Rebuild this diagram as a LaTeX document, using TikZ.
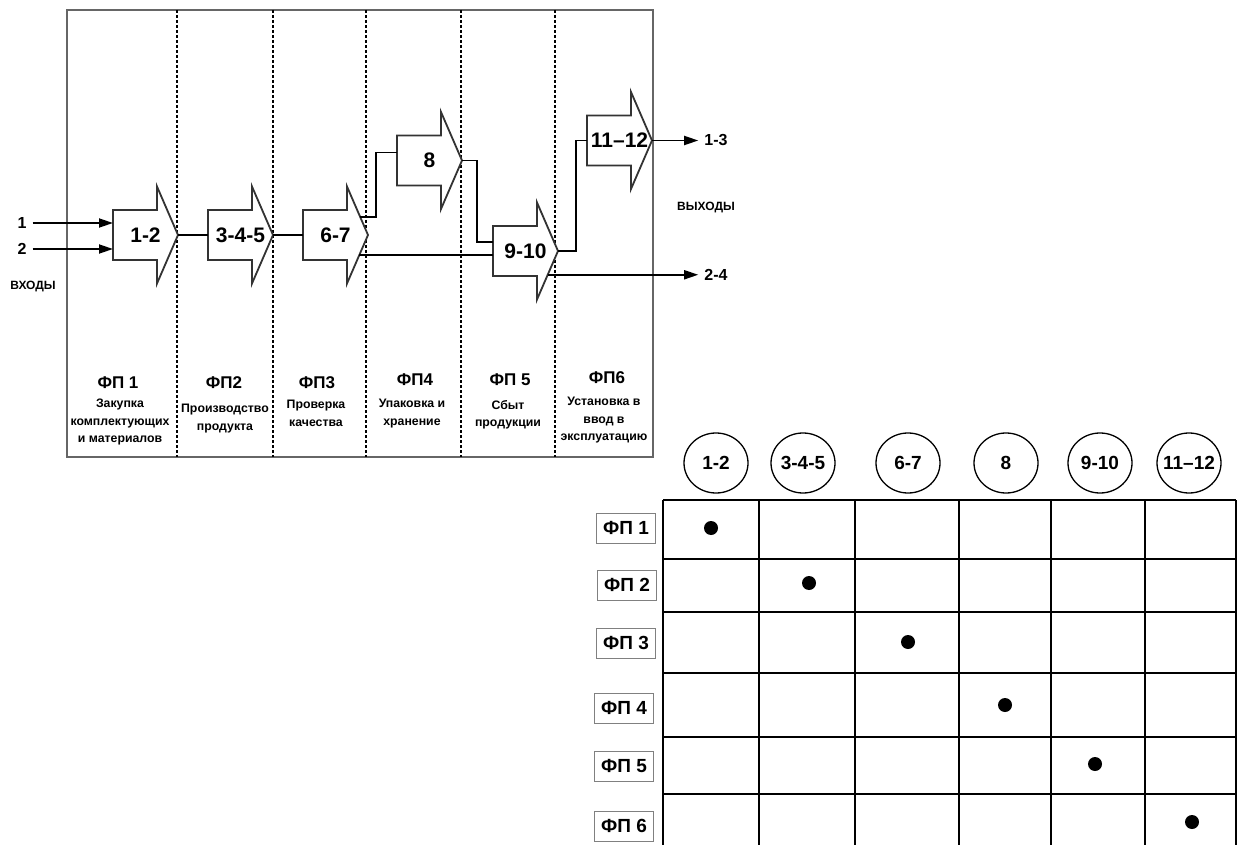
\documentclass[tikz,border=0pt]{standalone}
\usepackage{fontspec}
\setmainfont{Liberation Sans}
\usetikzlibrary{calc,shapes.geometric,arrows.meta}

\tikzset{
  outerframe/.style={line width=2.2pt,draw=black!60},
  divider/.style={line width=1.3pt,dash pattern=on 3pt off 2pt},
  procarrow/.style={line width=1.8pt,draw=black!80,fill=white},
  link/.style={line width=1.8pt},
  numlbl/.style={font=\fontsize{21}{21}\selectfont\bfseries,inner sep=0pt},
  iolbl/.style={font=\fontsize{16}{16}\selectfont\bfseries,inner sep=2pt},
  sidelbl/.style={font=\fontsize{12}{12}\selectfont\bfseries,inner sep=0pt},
  fphead/.style={font=\fontsize{17}{17}\selectfont\bfseries,inner sep=0pt},
  fptext/.style={font=\fontsize{12.3}{17.5}\selectfont\bfseries,align=center,anchor=north,inner sep=0pt},
  opcircle/.style={ellipse,draw,line width=1.3pt,minimum width=64pt,minimum height=60pt,inner xsep=-6pt,inner ysep=0pt,font=\fontsize{19}{19}\selectfont\bfseries},
  rowlbl/.style={draw=black!50,line width=1pt,minimum width=59pt,minimum height=30pt,inner sep=0pt,font=\fontsize{19}{19}\selectfont\bfseries},
  matrixline/.style={line width=1.6pt},
  hitdot/.style={circle,fill,inner sep=0pt,minimum size=14pt},
}

% стрелка-операция: имя, левый край, ось, подпись
\newcommand{\flowarrow}[4]{%
  \coordinate (#1-w) at (#2,#3);
  \coordinate (#1-h) at (#2+44,#3);
  \coordinate (#1-e) at (#2+65,#3);
  \coordinate (#1-nt) at (#2+44,#3-48.5);
  \coordinate (#1-nb) at (#2+44,#3+48.5);
  \draw[procarrow] ($(#1-w)+(0,-25)$) -- ($(#1-h)+(0,-25)$) -- (#1-nt) -- (#1-e)
    -- (#1-nb) -- ($(#1-h)+(0,25)$) -- ($(#1-w)+(0,25)$) -- cycle;
  \node[numlbl] (#1) at ($(#1-w)!0.5!(#1-e)$) {#4};
}

\begin{document}
\begin{tikzpicture}[x=1pt,y=-1pt,>={Triangle[length=14pt,width=9pt]},line join=miter]
  \useasboundingbox (0,0) rectangle (1237,845);

  % рамка и границы ФП
  \draw[outerframe] (67,10) rectangle (653,457);
  \draw[divider] (177,10) -- (177,457);
  \draw[divider] (273,10) -- (273,457);
  \draw[divider] (366,10) -- (366,457);
  \draw[divider] (461,10) -- (461,457);
  \draw[divider] (555,10) -- (555,457);

  % операции
  \flowarrow{a12}{113}{235}{1-2}
  \flowarrow{a345}{208}{235}{3-4-5}
  \flowarrow{a67}{303}{235}{6-7}
  \flowarrow{a8}{397}{160.5}{8}
  \flowarrow{a910}{493}{251}{9-10}
  \flowarrow{a1112}{587}{140.5}{11–12}

  % входы
  \node[iolbl] (in1) at (22,223) {1};
  \node[iolbl] (in2) at (22,249) {2};
  \node[sidelbl] (inlbl) at (33,287) {ВХОДЫ};
  \draw[link,->] ([xshift=4pt]in1.east) -- (in1 -| a12-w);
  \draw[link,->] ([xshift=4pt]in2.east) -- (in2 -| a12-w);

  % связи
  \draw[link] (a12-e) -- (a345-w);
  \draw[link] (a345-e) -- (a67-w);
  \coordinate (up67) at ($(a67-e)!0.37!(a67-nt)$);
  \draw[link] (up67) -| ($(a8-w)+(-21,-8)$) -- ($(a8-w)+(0,-8)$);
  \draw[link] (a8-e) -| ($(a910-w)+(-16,-9)$) -- ($(a910-w)+(0,-9)$);
  \coordinate (dn67) at ($(a67-e)!0.41!(a67-nb)$);
  \draw[link] (dn67) -- (dn67 -| a910-w);
  \draw[link] (a910-e) -| ($(a1112-w)+(-11,0)$) -- (a1112-w);

  % выходы
  \node[iolbl,inner sep=6pt] (out13) at (716,140.5) {1-3};
  \node[iolbl,inner sep=6pt] (out24) at (716,275) {2-4};
  \node[sidelbl] (outlbl) at (706,208) {ВЫХОДЫ};
  \draw[link,->] (a1112-e) -- (out13.west);
  \coordinate (dn910) at ($(a910-e)!0.49!(a910-nb)$);
  \draw[link,->] (dn910) -- (dn910 -| out24.west);

  % подписи ФП
  \node[fphead] (h1) at (118,383) {ФП 1};
  \node[fphead] (h2) at (224,383) {ФП2};
  \node[fphead] (h3) at (317,383) {ФП3};
  \node[fphead] (h4) at (415,380) {ФП4};
  \node[fphead] (h5) at (510,380) {ФП 5};
  \node[fphead] (h6) at (607,378) {ФП6};
  \node[fptext] (t1) at (120,399) {Закупка\\комплектующих\\и материалов};
  \node[fptext] (t2) at (225,404) {Производство\\продукта};
  \node[fptext] (t3) at (316,400) {Проверка\\качества};
  \node[fptext] (t4) at (412,399) {Упаковка и\\хранение};
  \node[fptext] (t5) at (508,400) {Сбыт\\продукции};
  \node[fptext] (t6) at (604,397) {Установка в\\ввод в\\эксплуатацию};

  % матрица соответствия
  \node[opcircle] (c1) at (716,463) {1-2};
  \node[opcircle] (c2) at (803,463) {3-4-5};
  \node[opcircle] (c3) at (908,463) {6-7};
  \node[opcircle] (c4) at (1006,463) {8};
  \node[opcircle] (c5) at (1100,463) {9-10};
  \node[opcircle] (c6) at (1189,463) {11–12};

  \draw[matrixline] (663,500) -- (663,845);
  \draw[matrixline] (759,500) -- (759,845);
  \draw[matrixline] (855,500) -- (855,845);
  \draw[matrixline] (959,500) -- (959,845);
  \draw[matrixline] (1051,500) -- (1051,845);
  \draw[matrixline] (1145,500) -- (1145,845);
  \draw[matrixline] (1236,500) -- (1236,845);
  \draw[matrixline] (663,500) -- (1236,500);
  \draw[matrixline] (663,559) -- (1236,559);
  \draw[matrixline] (663,612) -- (1236,612);
  \draw[matrixline] (663,673) -- (1236,673);
  \draw[matrixline] (663,737) -- (1236,737);
  \draw[matrixline] (663,794) -- (1236,794);

  \node[rowlbl] (r1) at (626,528) {ФП 1};
  \node[rowlbl] (r2) at (627,585) {ФП 2};
  \node[rowlbl] (r3) at (626,643) {ФП 3};
  \node[rowlbl] (r4) at (624,708) {ФП 4};
  \node[rowlbl] (r5) at (624,766) {ФП 5};
  \node[rowlbl] (r6) at (624,826) {ФП 6};

  \node[hitdot] (d1) at (711,528) {};
  \node[hitdot] (d2) at (809,583) {};
  \node[hitdot] (d3) at (908,642) {};
  \node[hitdot] (d4) at (1005,705) {};
  \node[hitdot] (d5) at (1095,764) {};
  \node[hitdot] (d6) at (1192,822) {};
\end{tikzpicture}
\end{document}
